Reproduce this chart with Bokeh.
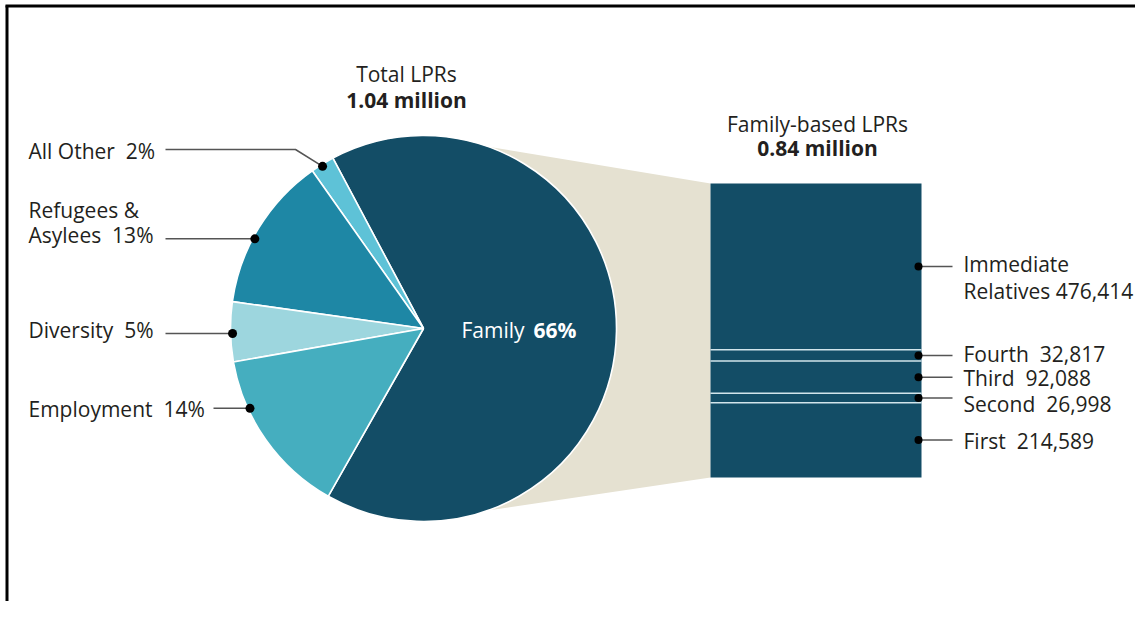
import math
from bokeh.plotting import figure
from bokeh.models import Range1d
from bokeh.embed import file_html
from bokeh.resources import INLINE
from bokeh.core.properties import value

# ---------------- data ----------------
pie_names = ["Family", "All Other", "Refugees & Asylees", "Diversity", "Employment"]
pie_pcts = [66, 2, 13, 5, 14]
pie_colors = ["#134d66", "#5ec2d7", "#1e87a5", "#9dd6de", "#45aebf"]

family_names = ["Immediate Relatives", "Fourth", "Third", "Second", "First"]
family_values = [476414, 32817, 92088, 26998, 214589]

total_title = "Total LPRs"
total_value = "1.04 million"
family_title = "Family-based LPRs"
family_value = "0.84 million"

# ---------------- layout (image pixels) ----------------
W, H = 1135, 601
def sy(y):  # image y -> data y
    return H - y

FONT = value("Open Sans")
FS = "21px"
TXT = "#231f20"
GAP = "\u00a0\u00a0"

p = figure(width=W, height=H, output_backend="svg", toolbar_location=None,
           x_range=Range1d(0, W), y_range=Range1d(0, H), min_border=0)
p.axis.visible = False
p.grid.visible = False
p.outline_line_color = None
p.background_fill_color = "white"

# frame lines (top and left)
p.segment(x0=[5, 6.5], y0=[sy(5.5), sy(5)], x1=[1140, 6.5], y1=[sy(5.5), 0],
          line_color="black", line_width=3)

# pie geometry
cx, cy, R = 423, sy(328), 193
fam_end = math.radians(118)
starts, ends = [], []
a = fam_end - math.radians(pie_pcts[0] * 3.6)
for pct in pie_pcts:
    starts.append(a)
    a += math.radians(pct * 3.6)
    ends.append(a)

# bar geometry
bx0, bx1, btop, bbot = 710, 921, 183, 477
total_fam = sum(family_values)
k = total_fam / (bbot - btop)
p.extra_y_ranges = {"fam": Range1d(start=-(H - bbot) * k, end=bbot * k)}

# beige connector
a_top, a_bot = math.radians(70.4), math.radians(-70.6)
p.patch(x=[cx, cx + R * math.cos(a_top), bx0, bx0, cx + R * math.cos(a_bot)],
        y=[cy, cy + R * math.sin(a_top), sy(btop), sy(bbot), cy + R * math.sin(a_bot)],
        fill_color="#e5e1d1", line_color=None)

# pie wedges
p.wedge(x=cx, y=cy, radius=R, start_angle=starts, end_angle=ends,
        fill_color=pie_colors, line_color="white", line_width=1.6)

# stacked family bar (bottom = First ... top = Immediate Relatives)
order = list(range(len(family_values)))[::-1]
acc = 0
seg_b = [0] * len(family_values)
seg_t = [0] * len(family_values)
for i in order:
    seg_b[i] = acc
    acc += family_values[i]
    seg_t[i] = acc
p.quad(left=bx0, right=bx1, bottom=seg_b, top=seg_t, fill_color="#134d66",
       line_color=None, y_range_name="fam")
inner = sorted(seg_b)[1:]
p.segment(x0=[bx0] * len(inner), x1=[bx1] * len(inner), y0=inner, y1=inner,
          line_color="#d2e5eb", line_width=1.5, y_range_name="fam")

# right leaders and dots
mids = [(b + t) / 2 for b, t in zip(seg_b, seg_t)]
p.segment(x0=[918] * 5, x1=[952] * 5, y0=mids, y1=mids, line_color="#555555",
          line_width=1.5, y_range_name="fam")
p.scatter(x=[918] * 5, y=mids, size=8, fill_color="black", line_color=None,
          y_range_name="fam")

# right labels
rlab_y = [290, 353, 377, 403, 440]
for i, (name, v, yy) in enumerate(zip(family_names, family_values, rlab_y)):
    nm = name.replace("Immediate ", "")
    gap = " " if i == 0 else GAP
    p.text(x=[963], y=[sy(yy)], text=[f"{nm}{gap}{v:,}"], text_font=FONT,
           text_font_size=FS, text_color=TXT, text_baseline="middle")
p.text(x=[963], y=[sy(263)], text=["Immediate"], text_font=FONT,
       text_font_size=FS, text_color=TXT, text_baseline="middle")

# left pie leaders
ptr_angles = [None, 121.9, 152, 181.5, 204.7]
dots_x, dots_y = [], []
for ang in ptr_angles[1:]:
    r = math.radians(ang)
    dots_x.append(cx + (R - 2) * math.cos(r))
    dots_y.append(cy + (R - 2) * math.sin(r))
# All Other (bent leader)
p.line(x=[165, 295, dots_x[0]], y=[sy(149), sy(149), dots_y[0]], line_color="#555555", line_width=1.5)
# Refugees, Diversity, Employment (horizontal)
p.segment(x0=[165, 165, 213], y0=dots_y[1:], x1=dots_x[1:], y1=dots_y[1:],
          line_color="#555555", line_width=1.5)
p.scatter(x=dots_x, y=dots_y, size=9, fill_color="black", line_color=None)

left_texts = [f"All Other{GAP}{pie_pcts[1]}%", "Refugees &", f"Asylees{GAP}{pie_pcts[2]}%",
              f"Diversity{GAP}{pie_pcts[3]}%", f"Employment{GAP}{pie_pcts[4]}%"]
left_y = [150, 209, 234, 329, 408]
p.text(x=[28] * 5, y=[sy(v) for v in left_y], text=left_texts, text_font=FONT,
       text_font_size=FS, text_color=TXT, text_baseline="middle")

# family label in pie
p.text(x=[461], y=[sy(329)], text=[pie_names[0]], text_font=FONT, text_font_size=FS,
       text_color="white", text_baseline="middle")
p.text(x=[533], y=[sy(329)], text=[f"{pie_pcts[0]}%"], text_font=FONT, text_font_size=FS,
       text_color="white", text_baseline="middle", text_font_style="bold")

# titles
p.text(x=[406], y=[sy(73)], text=[total_title], text_font=FONT, text_font_size=FS,
       text_color=TXT, text_baseline="middle", text_align="center")
p.text(x=[406], y=[sy(99)], text=[total_value], text_font=FONT, text_font_size=FS,
       text_color=TXT, text_baseline="middle", text_align="center", text_font_style="bold")
p.text(x=[817], y=[sy(123)], text=[family_title], text_font=FONT, text_font_size=FS,
       text_color=TXT, text_baseline="middle", text_align="center")
p.text(x=[817], y=[sy(147)], text=[family_value], text_font=FONT, text_font_size=FS,
       text_color=TXT, text_baseline="middle", text_align="center", text_font_style="bold")

open("out.html", "w").write(file_html(p, INLINE))
